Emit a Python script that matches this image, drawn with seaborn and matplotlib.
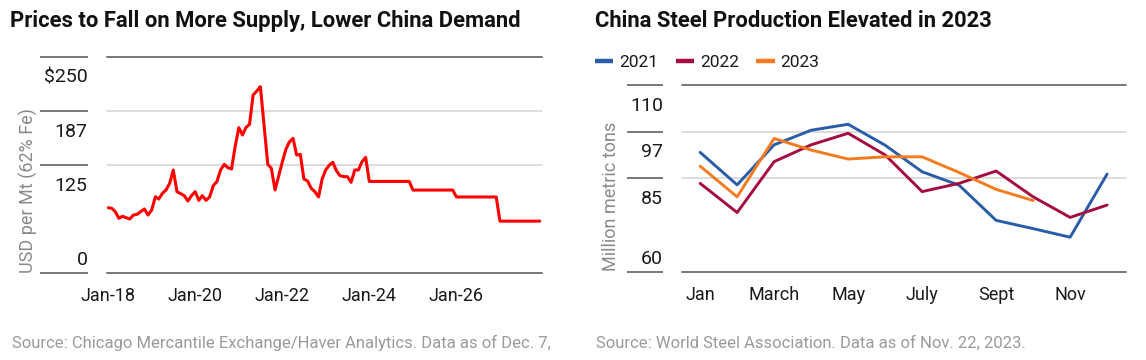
import numpy as np
import pandas as pd
import matplotlib
matplotlib.use("Agg")
import matplotlib.pyplot as plt
import matplotlib.transforms as mtransforms
from matplotlib.lines import Line2D
import seaborn as sns

# iron ore 62% Fe, USD per Mt, monthly from Jan-2018 to Dec-2023
price_2018 = [75.6, 74.8, 71.0, 63.3, 65.6, 64.0, 62.5, 67.1, 67.9, 71.0, 74.1, 67.1]
price_2019 = [72.9, 88.3, 85.6, 92.2, 96.1, 103.8, 119.2, 94.1, 91.8, 89.5, 83.3, 89.5]
price_2020 = [94.1, 84.1, 89.5, 84.1, 88.0, 101.1, 105.7, 119.2, 125.8, 121.9, 120.4, 146.2]
price_2021 = [168.2, 159.7, 168.2, 172.1, 206.0, 210.6, 215.6, 171.0, 125.8, 121.1, 96.1, 111.9]
price_2022 = [128.5, 143.5, 151.6, 155.9, 136.6, 137.3, 108.8, 106.5, 98.0, 94.1, 88.0, 108.8]
price_2023 = [119.6, 125.0, 128.1, 118.1, 112.6, 111.5, 111.5, 105.0, 119.2, 119.2, 128.8, 133.9]
# annual forecast, held flat through each year
forecast_years = [2024, 2025, 2026, 2027]
forecast_price = [106, 96, 88, 60]

price_ticks = [0, 125, 187.5, 250]
price_labels = ["0", "125", "187", "$250"]
date_ticks = ["2018-01-01", "2020-01-01", "2022-01-01", "2024-01-01", "2026-01-01"]
date_labels = ["Jan-18", "Jan-20", "Jan-22", "Jan-24", "Jan-26"]

# China crude steel production, million metric tons
months = list(range(1, 13))
steel_2021 = [92.0, 83.3, 94.0, 97.9, 99.5, 93.9, 86.8, 83.2, 73.8, 71.6, 69.3, 86.2]
steel_2022 = [83.7, 75.9, 89.5, 94.0, 97.1, 91.3, 81.5, 83.7, 87.0, 80.1, 74.6, 77.9]
steel_2023 = [88.3, 80.1, 95.7, 92.6, 90.2, 90.8, 90.8, 86.6, 82.1, 79.1]
steel_ticks = [60, 85, 97.5, 110]
steel_labels = ["60", "85", "97", "110"]
month_ticks = [1, 3, 5, 7, 9, 11]
month_labels = ["Jan", "March", "May", "July", "Sept", "Nov"]

hist = price_2018 + price_2019 + price_2020 + price_2021 + price_2022 + price_2023
prices = hist + list(np.repeat(forecast_price, 12))
iron = pd.DataFrame({
    "date": pd.date_range("2018-01-01", periods=len(prices), freq="MS"),
    "price": prices,
})

steel = pd.concat([
    pd.DataFrame({"month": months[:len(v)], "mt": v, "year": y})
    for y, v in [("2021", steel_2021), ("2022", steel_2022), ("2023", steel_2023)]
])
palette = {"2021": "#2a5ca8", "2022": "#a50d3d", "2023": "#f47b20"}

sns.set_style("white")
plt.rcParams["font.family"] = ["Liberation Sans Narrow", "DejaVu Sans Condensed", "Roboto", "DejaVu Sans"]

W, H = 1146, 360
fig = plt.figure(figsize=(W / 100, H / 100), dpi=100)
ax1 = fig.add_axes([107 / W, 1 - 273 / H, 435 / W, 216 / H])
ax2 = fig.add_axes([682 / W, 1 - 272 / H, 444 / W, 187 / H])

DARK = "#777777"
LIGHT = "#d3d3d3"
INK = "#1a1a1a"


def frame(ax, ticks, labels, stub0, stub1, lab_x, fs):
    trans = mtransforms.blended_transform_factory(ax.transAxes, ax.transData)
    n = len(ticks)
    for i, (t, lab) in enumerate(zip(ticks, labels)):
        edge = i == 0 or i == n - 1
        ax.axhline(t, color=DARK if edge else LIGHT, lw=1.4 if edge else 1.1,
                   zorder=0, clip_on=False)
        ax.plot([stub0, stub1], [t, t], transform=trans, color=DARK, lw=1.4,
                clip_on=False, solid_capstyle="butt")
        dy = 5.5 if i == 0 else -18.5
        ax.annotate(lab, xy=(lab_x, t), xycoords=trans, xytext=(0, dy),
                    textcoords="offset points", ha="right", va="baseline",
                    fontsize=fs, color=INK)
    ax.set_ylim(ticks[0], ticks[-1])
    ax.set_yticks([])
    ax.set_ylabel("")
    ax.set_xlabel("")
    sns.despine(ax=ax, left=True, bottom=True)
    ax.tick_params(axis="x", length=0, pad=10, labelsize=13, labelcolor=INK)


# left: iron ore price
sns.lineplot(data=iron, x="date", y="price", color="#ff0000", lw=2.2, ax=ax1)
ax1.set_xlim(pd.Timestamp("2017-12-22"), pd.Timestamp("2027-12-20"))
ax1.set_xticks(pd.to_datetime(date_ticks))
ax1.set_xticklabels(date_labels)
frame(ax1, price_ticks, price_labels, -0.154, -0.044, -0.045, 14)

# right: steel production
sns.lineplot(data=steel, x="month", y="mt", hue="year", palette=palette,
             lw=2.1, ax=ax2, legend=False)
ax2.set_xlim(0.51, 12.51)
ax2.set_xticks(month_ticks)
ax2.set_xticklabels(month_labels)
frame(ax2, steel_ticks, steel_labels, -0.124, -0.043, -0.043, 14)

handles = [Line2D([], [], color=palette[y], lw=3.2, solid_capstyle="butt") for y in palette]
fig.legend(handles, list(palette), loc="center left", bbox_to_anchor=(595 / W, 1 - 62 / H),
           ncol=3, frameon=False, fontsize=12.5, handlelength=1.05, handletextpad=0.35,
           columnspacing=1.0, borderpad=0, borderaxespad=0, labelcolor=INK)

# titles, axis labels, sources
fig.text(10 / W, 1 - 27 / H, "Prices to Fall on More Supply, Lower China Demand",
         fontsize=15.8, fontweight="bold", color="#111111", va="baseline")
fig.text(595 / W, 1 - 27 / H, "China Steel Production Elevated in 2023",
         fontsize=15.8, fontweight="bold", color="#111111", va="baseline")
fig.text(28 / W, 1 - 273 / H, "USD per Mt (62% Fe)", rotation=90, ha="center",
         va="bottom", fontsize=13, color="#8a8a8a")
fig.text(611 / W, 1 - 271 / H, "Million metric tons", rotation=90, ha="center",
         va="bottom", fontsize=13, color="#8a8a8a")
fig.text(12 / W, 1 - 348 / H,
         "Source: Chicago Mercantile Exchange/Haver Analytics. Data as of Dec. 7,",
         fontsize=12, color="#9a9a9a", va="baseline")
fig.text(596 / W, 1 - 348 / H, "Source: World Steel Association. Data as of Nov. 22, 2023.",
         fontsize=12, color="#9a9a9a", va="baseline")

fig.savefig("out.png", dpi=100)
